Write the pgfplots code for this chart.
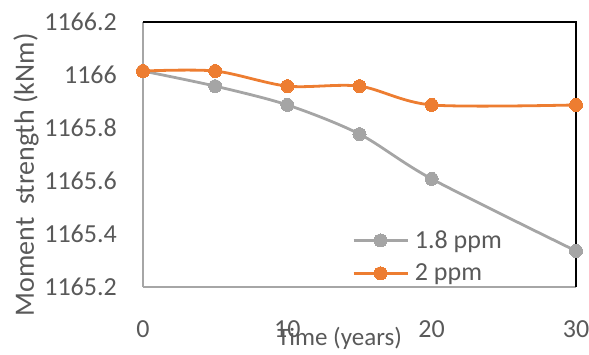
\documentclass[border=0pt]{standalone}
\usepackage{fontspec}
\setmainfont{Carlito}
\usepackage{pgfplots}
\pgfplotsset{compat=1.18}
\definecolor{cgray}{HTML}{A5A5A5}
\definecolor{corange}{HTML}{ED7D31}
\definecolor{ctext}{HTML}{595959}
\definecolor{caxis}{HTML}{A6A6A6}
\begin{document}
\begin{tikzpicture}
\useasboundingbox (-143pt,-67pt) rectangle (446pt,287pt);
\begin{axis}[
  at={(0pt,0pt)}, anchor=south west,
  scale only axis,
  width=433pt, height=265pt,
  xmin=0, xmax=30, ymin=1165.2, ymax=1166.2,
  xtick={0,10,20,30},
  ytick={1165.2,1165.4,1165.6,1165.8,1166,1166.2},
  axis x line*=bottom, axis y line*=left,
  axis line style={caxis, line width=1.2pt},
  major tick length=0pt,
  clip=false,
  /pgf/number format/assume math mode=true,
  /pgf/number format/.cd, fixed, precision=1, 1000 sep={},
  /pgfplots/.cd,
  ticklabel style={font=\fontsize{26}{30}\selectfont, text=ctext, inner sep=0pt},
  xticklabel style={anchor=north, yshift=-33pt},
  yticklabel style={anchor=east, xshift=-26pt},
  xlabel={Time (years)},
  ylabel={Moment\ \ strength (kNm)},
  xlabel style={font=\fontsize{25}{30}\selectfont, text=ctext, inner sep=0pt, at={(axis description cs:0.454,-0.192)}, anchor=center},
  ylabel style={font=\fontsize{28}{32}\selectfont, text=ctext, inner sep=0pt, at={(axis description cs:-0.27,0.423)}, anchor=center},
  legend style={draw=none, fill=none, inner sep=0pt, outer sep=0pt,
    at={(axis description cs:0.483,0.017)}, anchor=south west,
    font=\fontsize{26}{30}\selectfont, text=ctext,
    nodes={inner sep=0pt}, row sep=14pt, column sep=6pt},
  legend cell align=left,
  legend image code/.code={\draw[mark repeat=2,mark phase=2,#1] plot coordinates {(0pt,0pt) (27pt,0pt) (54pt,0pt)};},
]
\draw[black, line width=1.3pt] (rel axis cs:0,1) -- (rel axis cs:1,1) -- (rel axis cs:1,0);
\addplot[cgray, line width=2.8pt, smooth, mark=*, mark size=6.5pt, mark options={solid, fill=cgray, draw=cgray, line width=0pt}]
  coordinates {(0,1166.015) (5,1165.958) (10,1165.887) (15,1165.777) (20,1165.608) (30,1165.336)};
\addlegendentry{1.8 ppm}
\addplot[corange, line width=2.8pt, smooth, mark=*, mark size=6.5pt, mark options={solid, fill=corange, draw=corange, line width=0pt}]
  coordinates {(0,1166.015) (5,1166.015) (10,1165.958) (15,1165.958) (20,1165.887) (30,1165.887)};
\addlegendentry{2 ppm}
\end{axis}
\end{tikzpicture}
\end{document}
